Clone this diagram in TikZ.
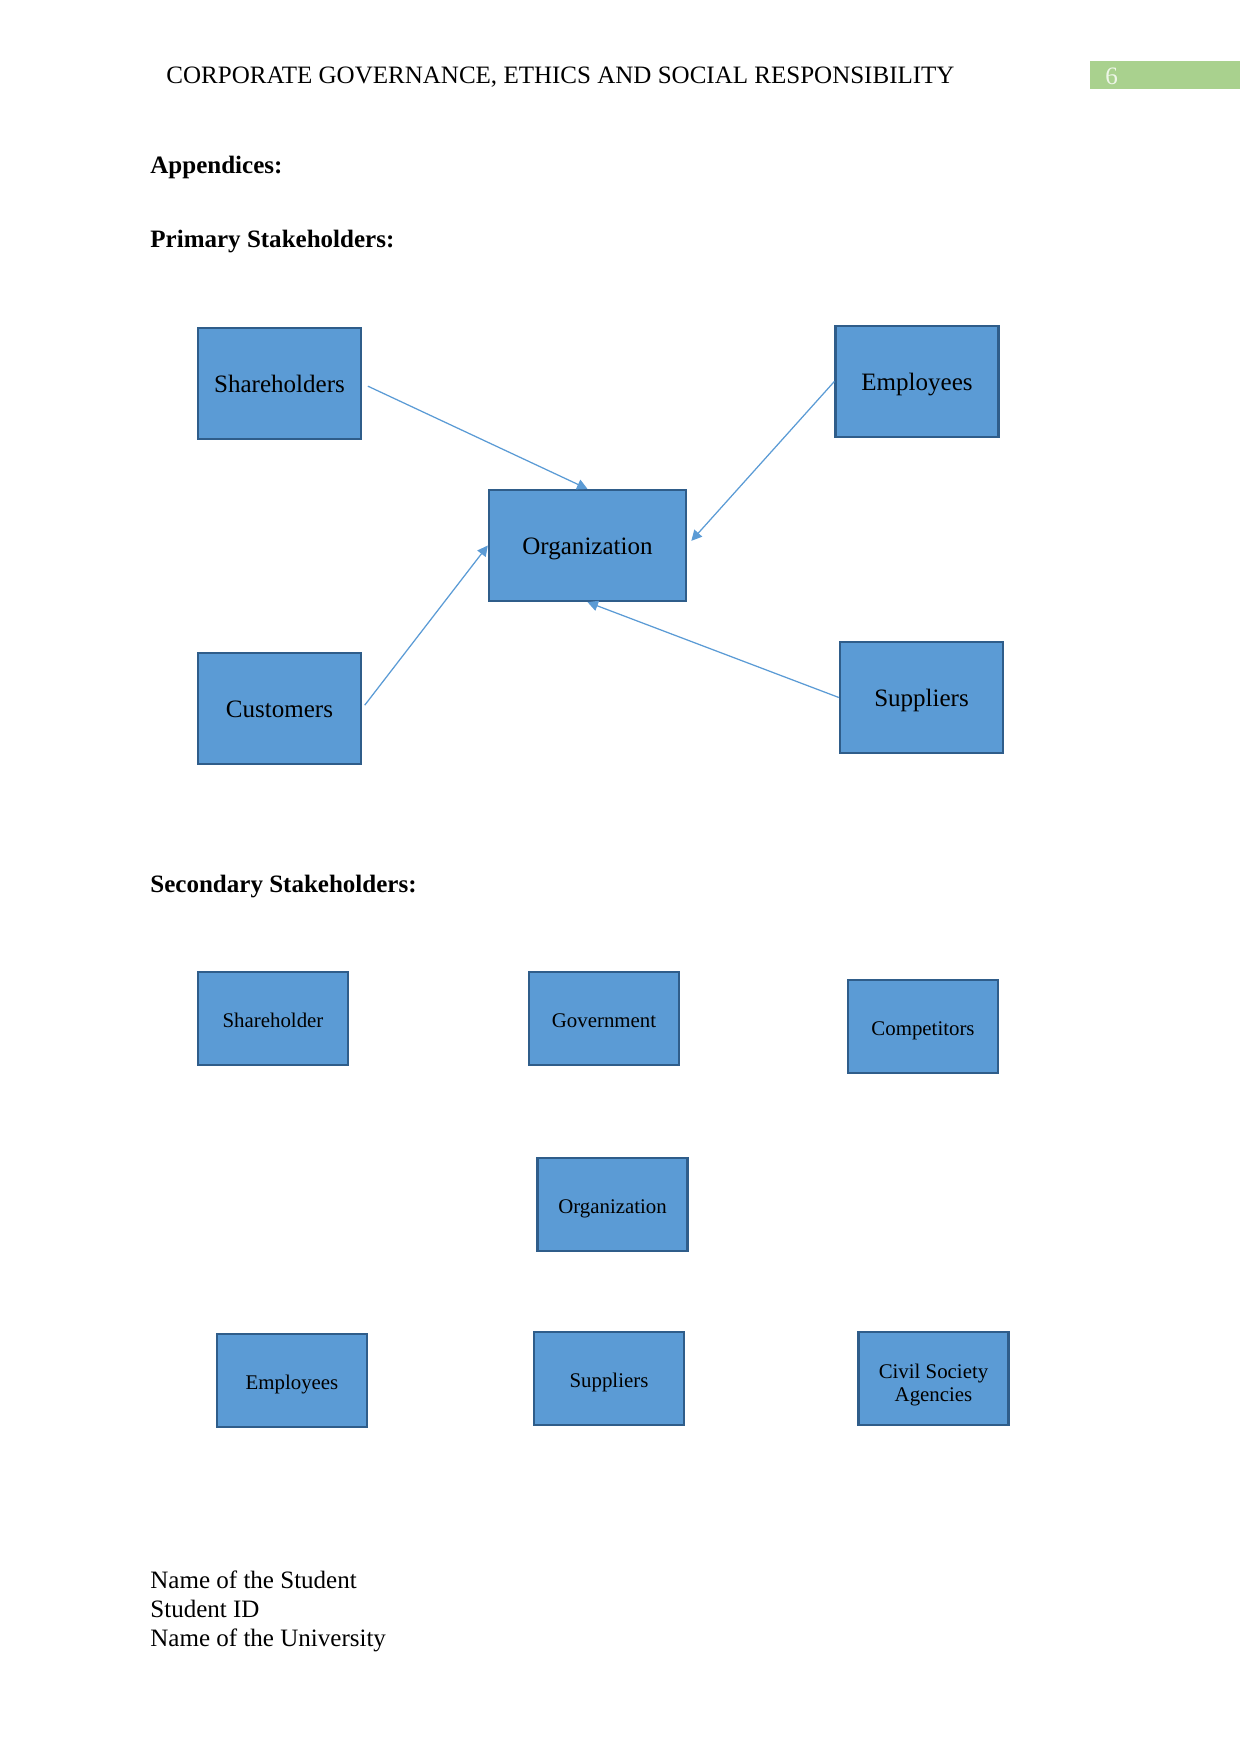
\documentclass[tikz,border=0pt]{standalone}
\usepackage{fontspec}
\setmainfont{Liberation Serif}
\usetikzlibrary{arrows.meta}

\definecolor{boxblue}{HTML}{5B9BD5}
\definecolor{boxedge}{HTML}{2F5D8A}
\definecolor{pagegreen}{HTML}{A9D18E}

\begin{document}
\begin{tikzpicture}[
    x=0.4796pt, y=-0.4796pt,
    bigbox/.style={
        rectangle,
        draw=boxedge,
        fill=boxblue,
        line width=1.1pt,
        minimum width=78.2pt,
        minimum height=53.2pt,
        inner sep=0pt,
        text height=8.3pt,
        text depth=0pt,
        align=center,
        font=\fontsize{12}{14}\selectfont
    },
    smallbox/.style={
        rectangle,
        draw=boxedge,
        fill=boxblue,
        line width=1.1pt,
        minimum width=72pt,
        minimum height=44.6pt,
        inner sep=0pt,
        text height=8.8pt,
        text depth=0.5pt,
        align=center,
        font=\fontsize{10}{12}\selectfont
    },
    heading/.style={
        anchor=west,
        inner sep=0pt,
        font=\fontsize{12}{14}\selectfont\bfseries
    },
    arrow/.style={
        draw=boxblue,
        line width=0.6pt,
        -{Triangle[length=5pt,width=5pt]}
    }
]
    \useasboundingbox (0,0) rectangle (1241,1754);

    % Header
    \node [anchor=west, inner sep=0pt, font=\fontsize{12}{14}\selectfont] (title) at (166,77.5)
        {CORPORATE GOVERNANCE, ETHICS AND SOCIAL RESPONSIBILITY};
    \node [fill=pagegreen, minimum width=72pt, minimum height=13pt, inner sep=0pt] (pagebox) at (1165,75) {};
    \node [anchor=west, inner sep=0pt, text=white!80!pagegreen, font=\fontsize{12}{14}\selectfont] (pagenum) at (1105,76) {6};

    % Headings
    \node [heading] (appendices) at (150,167.5) {Appendices:};
    \node [heading] (primary) at (150,241.5) {Primary Stakeholders:};
    \node [heading] (secondary) at (150,886.5) {Secondary Stakeholders:};

    % Primary stakeholders
    \node [bigbox] (shareholders) at (279.5,383.5) {Shareholders};
    \node [bigbox] (employees) at (917,381.5) {Employees};
    \node [bigbox, minimum width=94.5pt] (org) at (587.5,545.5) {Organization};
    \node [bigbox] (customers) at (279.5,708.5) {Customers};
    \node [bigbox] (suppliers) at (921.5,697.5) {Suppliers};

    % Arrows
    \draw [arrow, shorten <=3pt] (shareholders.east) -- (org.north);
    \draw [arrow, shorten >=3pt] (employees.west) -- (org.east);
    \draw [arrow, shorten <=2pt] (customers.east) -- (org.west);
    \draw [arrow] (suppliers.west) -- (org.south);

    % Secondary stakeholders
    \node [smallbox] (shareholder2) at (273,1018.5) {Shareholder};
    \node [smallbox] (government) at (604,1018.5) {Government};
    \node [smallbox] (competitors) at (923,1026.5) {Competitors};
    \node [smallbox] (org2) at (612.5,1204.5) {Organization};
    \node [smallbox] (employees2) at (292,1380.5) {Employees};
    \node [smallbox] (suppliers2) at (609,1378.5) {Suppliers};
    \node [smallbox, text height=22.2pt, text depth=0pt] (civil) at (933.5,1378.5) {Civil Society\\[-1pt]Agencies};

    % Footer
    \node [anchor=north west, inner sep=0pt, align=left, font=\fontsize{12}{14}\selectfont] (student) at (150,1570.5)
        {Name of the Student\\Student ID\\Name of the University};
\end{tikzpicture}
\end{document}
